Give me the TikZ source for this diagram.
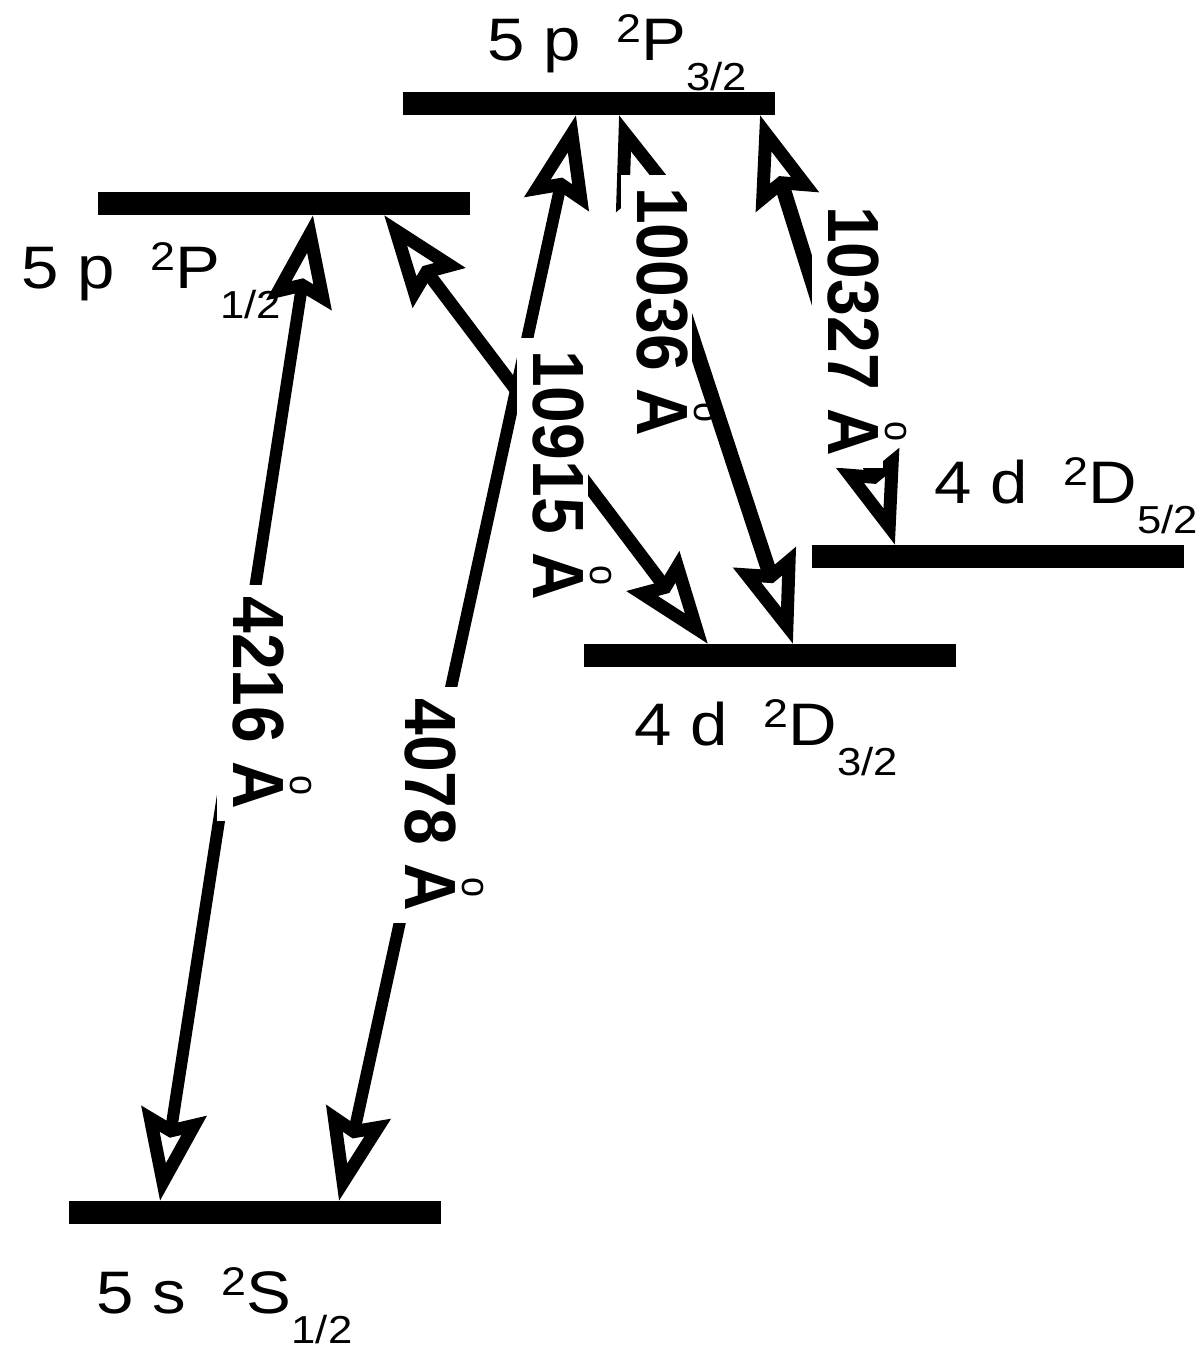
\documentclass[tikz,border=0pt]{standalone}
\usepackage{fontspec}
\setmainfont{Liberation Sans}
\usetikzlibrary{arrows.meta,calc}
\newcommand{\Ang}{\ooalign{A\cr\hidewidth\smash{\raisebox{26pt}{\normalfont\fontsize{18}{18}\selectfont o}}\hidewidth\cr}}
\newcommand{\wlab}[1]{\scalebox{1}[1.1]{#1 \Ang}}
\newcommand{\stlab}[4]{\scalebox{1.12}[1]{\fontsize{30}{30}\selectfont #1\hspace{16pt}\raisebox{9pt}{\fontsize{20}{20}\selectfont #2}#3\raisebox{-15pt}{\fontsize{19.5}{19.5}\selectfont #4}}}
\begin{document}
\begin{tikzpicture}[x=0.5pt,y=-0.5pt,
  level/.style={fill=black, draw=none, minimum width=186pt, minimum height=11.5pt, inner sep=0pt, outer sep=0pt, anchor=north west},
  stname/.style={anchor=base west, inner sep=0pt},
  tipA/.tip={Stealth[open, length=45pt, width=32pt, inset=6pt, line width=6.5pt]},
  trans/.style={line width=#1, tipA-tipA},
  wl/.style={rotate=-90, anchor=base, fill=white, inner xsep=6pt, inner ysep=2pt, text depth=6pt, font=\fontsize{33}{33}\selectfont\bfseries}
]
\useasboundingbox (0,0) rectangle (1200,1360);
\fill[white] (0,0) rectangle (1200,1360);

% levels
\node[level] (P32) at (403,92) {};
\node[level] (P12) at (98,192) {};
\node[level] (D52) at (812,545) {};
\node[level] (D32) at (584,644) {};
\node[level] (S12) at (69,1201) {};

% state names
\node[stname] (nP32) at (487,60) {\stlab{5 p}{2}{P}{3/2}};
\node[stname] (nP12) at (21,288) {\stlab{5 p}{2}{P}{1/2}};
\node[stname] (nD52) at (934,503) {\stlab{4 d}{2}{D}{5/2}};
\node[stname] (nD32) at (634,745) {\stlab{4 d}{2}{D}{3/2}};
\node[stname] (nS12) at (96,1313) {\stlab{5 s}{2}{S}{1/2}};

% arrow end points on the levels
\coordinate (a1t) at ($(P12.south west)+(215,0)$);
\coordinate (a1b) at ($(S12.north west)+(91,0)$);
\coordinate (a2t) at ($(P32.south west)+(173,0)$);
\coordinate (a2b) at ($(S12.north west)+(270,0)$);
\coordinate (a3t) at ($(P12.south west)+(286,0)$);
\coordinate (a3b) at ($(D32.north west)+(124,0)$);
\coordinate (a4t) at ($(P32.south west)+(216,0)$);
\coordinate (a4b) at ($(D32.north west)+(209,0)$);
\coordinate (a5t) at ($(P32.south west)+(357,0)$);
\coordinate (a5b) at ($(D52.north west)+(83,0)$);

% transitions
\draw[trans=6pt] (a1t) -- (a1b);
\draw[trans=6pt] (a2t) -- (a2b);
\draw[trans=6.5pt] (a3t) -- (a3b);
\draw[trans=7.5pt] (a4t) -- (a4b);
\draw[trans=7.5pt] (a5t) -- (a5b);

% wavelength labels
\node[wl] (l1) at (233,703) {\wlab{4216}};
\node[wl] (l2) at (405,805) {\wlab{4078}};
\node[wl] (l3) at (533,475) {\wlab{10915}};
\node[wl] (l4) at (637,312) {\wlab{10036}};
\node[wl] (l5) at (828,331) {\wlab{10327}};
\end{tikzpicture}
\end{document}
